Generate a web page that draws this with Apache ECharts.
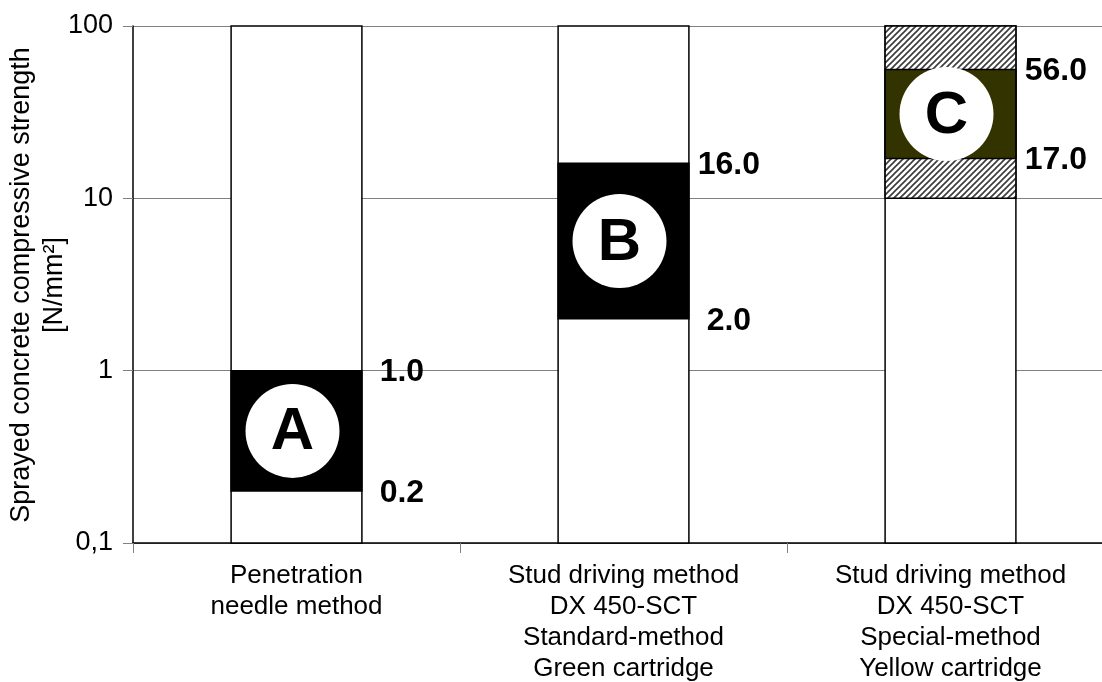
<!DOCTYPE html>
<html>
<head>
<meta charset="utf-8">
<script src="https://cdn.jsdelivr.net/npm/echarts@6/dist/echarts.min.js"></script>
<style>
  html, body { margin: 0; padding: 0; background: #ffffff; }
  #chart { width: 1102px; height: 682px; }
</style>
</head>
<body>
<div id="chart"></div>
<script>
// Measuring methods on the category axis
const categories = [
  'Penetration\nneedle method',
  'Stud driving method\nDX 450-SCT\nStandard-method\nGreen cartridge',
  'Stud driving method\nDX 450-SCT\nSpecial-method\nYellow cartridge'
];
// Strength range covered by each method [N/mm²]
const bandLow  = [0.2, 2.0, 17.0];
const bandHigh = [1.0, 16.0, 56.0];
// Extended (hatched) range of the special method
const hatchLow  = [null, null, 10];
const hatchHigh = [null, null, 100];
// Marker letters inside the ranges
const markerLetters = ['A', 'B', 'C'];
// Logarithmic axis
const yTickLabels = ['0,1', '1', '10', '100'];
const yAxisTitle = 'Sprayed concrete compressive strength\n[N/mm²]';
const axisMin = 0.1;
const axisMax = 100;

const FONT = "'Liberation Sans', Arial, sans-serif";
const BAND_COLORS = ['#000000', '#000000', '#333300'];

function makeHatch() {
  const c = document.createElement('canvas');
  c.width = 6; c.height = 6;
  const g = c.getContext('2d');
  g.fillStyle = '#ffffff';
  g.fillRect(0, 0, 6, 6);
  g.strokeStyle = '#3a3a3a';
  g.lineWidth = 1.6;
  g.beginPath();
  g.moveTo(-1, 7); g.lineTo(7, -1);
  g.moveTo(-1, 1); g.lineTo(1, -1);
  g.moveTo(5, 7); g.lineTo(7, 5);
  g.stroke();
  return c;
}
const hatchPattern = { image: makeHatch(), repeat: 'repeat' };

function renderRange(params, api) {
  const i = api.value(0);
  const low = api.value(1);
  const high = api.value(2);
  const bw = api.size([1, 1])[0] * 0.4;
  const cx = api.coord([i, axisMin])[0];
  const yBottom = api.coord([i, axisMin])[1];
  const yTop = api.coord([i, axisMax])[1];
  const yLow = api.coord([i, low])[1];
  const yHigh = api.coord([i, high])[1];
  const x0 = cx - bw / 2;
  const stroke = { stroke: '#000000', lineWidth: 1.5 };
  const children = [];

  // full column outline
  children.push({
    type: 'rect',
    shape: { x: x0, y: yTop, width: bw, height: yBottom - yTop },
    style: Object.assign({ fill: '#ffffff' }, stroke)
  });

  // hatched extension, where one exists
  const hl = hatchLow[params.dataIndex];
  const hh = hatchHigh[params.dataIndex];
  if (hl != null && hh != null) {
    const yh1 = api.coord([i, hh])[1];
    const yh0 = api.coord([i, hl])[1];
    children.push({
      type: 'rect',
      shape: { x: x0, y: yh1, width: bw, height: yh0 - yh1 },
      style: Object.assign({ fill: hatchPattern }, stroke)
    });
  }

  // application range
  children.push({
    type: 'rect',
    shape: { x: x0, y: yHigh, width: bw, height: yLow - yHigh },
    style: Object.assign({ fill: BAND_COLORS[params.dataIndex] }, stroke)
  });

  // lettered disc in the middle of the range
  const my = (yLow + yHigh) / 2;
  const mx = cx - 4;
  children.push({
    type: 'circle',
    shape: { cx: mx, cy: my, r: 47 },
    style: { fill: '#ffffff' }
  });
  children.push({
    type: 'text',
    x: mx, y: my + 2,
    style: {
      text: markerLetters[params.dataIndex],
      font: 'bold 60px ' + FONT,
      fill: '#000000',
      align: 'center',
      verticalAlign: 'middle'
    }
  });

  // limit values beside the column
  const lx = x0 + bw + 40;
  [[high, yHigh], [low, yLow]].forEach(function (p) {
    children.push({
      type: 'text',
      x: lx, y: p[1] + 2,
      style: {
        text: p[0].toFixed(1),
        font: 'bold 32px ' + FONT,
        fill: '#000000',
        align: 'center',
        verticalAlign: 'middle'
      }
    });
  });

  return { type: 'group', children: children };
}

const chart = echarts.init(document.getElementById('chart'), null, { renderer: 'canvas' });
chart.setOption({
  animation: false,
  backgroundColor: '#ffffff',
  grid: {
    left: 133, right: -12, top: 26, bottom: 139,
    containLabel: false,
    outerBoundsMode: 'none'
  },
  graphic: [{
    type: 'text',
    x: 38,
    y: 285,
    rotation: Math.PI / 2,
    style: {
      text: yAxisTitle,
      font: '27px ' + FONT,
      lineHeight: 33,
      fill: '#000000',
      align: 'center',
      verticalAlign: 'middle'
    }
  }],
  xAxis: {
    type: 'category',
    data: categories,
    axisLine: { lineStyle: { color: '#000000', width: 1.5 } },
    axisTick: { show: true, length: 10, lineStyle: { color: '#808080' } },
    axisLabel: {
      margin: 17,
      fontFamily: FONT,
      fontSize: 26,
      lineHeight: 31,
      color: '#000000',
      interval: 0
    },
    splitLine: { show: false }
  },
  yAxis: {
    type: 'log',
    logBase: 10,
    min: axisMin,
    max: axisMax,
    axisLine: { show: true, lineStyle: { color: '#000000', width: 1.5 } },
    axisTick: { show: true, length: 10, lineStyle: { color: '#808080' } },
    axisLabel: {
      margin: 20,
      fontFamily: FONT,
      fontSize: 27,
      color: '#000000',
      formatter: function (v, idx) { return yTickLabels[idx]; }
    },
    splitLine: { show: true, lineStyle: { color: '#808080', width: 1 } }
  },
  series: [{
    type: 'custom',
    renderItem: renderRange,
    data: categories.map(function (c, i) { return [i, bandLow[i], bandHigh[i]]; }),
    z: 3
  }]
});
</script>
</body>
</html>
